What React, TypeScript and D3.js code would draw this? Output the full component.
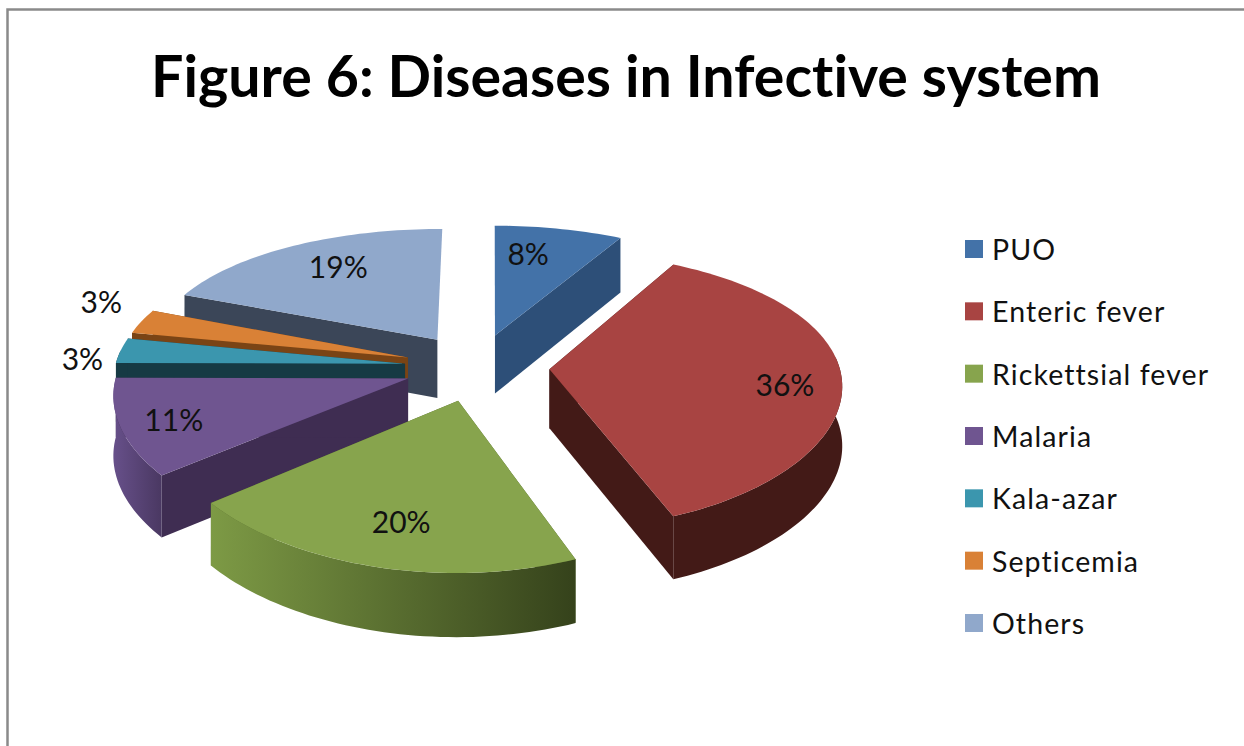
import React from "react";
import * as d3 from "d3";

const categories = ["PUO", "Enteric fever", "Rickettsial fever", "Malaria", "Kala-azar", "Septicemia", "Others"];
const shares = [8, 36, 20, 11, 3, 3, 19];
const topColors = ["#4372a8", "#a84442", "#87a44d", "#6f5590", "#3b96ae", "#d98136", "#90a8cb"];
const cutColors = ["#2d4f78", "#431a17", "#4f6329", "#3f2d52", "#163a44", "#7a4415", "#3b4658"];
const rimFrom = ["#2d4f78", "#431a17", "#7d9a45", "#67508a", "#163a44", "#7a4415", "#3b4658"];
const rimTo = ["#2d4f78", "#431a17", "#35421b", "#4a3862", "#163a44", "#7a4415", "#3b4658"];

// Far slices first, so nearer ones overlap them.
const paintOrder = [6, 0, 5, 4, 3, 1, 2];

// Label placement along each slice's bisector, with a small pixel nudge.
const labelReach = [0.8, 0.8, 0.72, 0.84, 1.14, 1.12, 0.76];
const labelNudge = [[-19, 5], [2, 7], [3, 7], [6, 0], [1, 9], [-9, -16], [12, 0]];

const WIDTH = 1244;
const HEIGHT = 746;
const CX = 477;
const CY = 367;
const RX = 290;
const RY = 135;
const PERSPECTIVE_X = 0.1;
const PERSPECTIVE_Y = 0.15;
const EXPLODE = 0.25;
const THICKNESS = 59;
const THICKNESS_FALLOFF = 0.07;
const ROTATION = (0.3 * Math.PI) / 180;
const EDGE_ON = 0.1;
const RIM_LIMIT = 0.1;
const FONT = "Lato, 'Open Sans', sans-serif";

type Pt = [number, number];

const project = (x: number, y: number, drop = 0): Pt => [
  CX + (RX * x) / (1 + PERSPECTIVE_X * y),
  CY - (RY * y) / (1 + PERSPECTIVE_Y * y) + drop * (1 - THICKNESS_FALLOFF * y),
];

const pie = d3
  .pie<number>()
  .sort(null)
  .startAngle(ROTATION)
  .endAngle(ROTATION + Math.PI * 2);

const arcs = pie(shares);
const outline = d3.line<Pt>();
const closed = (pts: Pt[]) => `${outline(pts)}Z`;

const legendY = d3.scaleLinear().domain([0, categories.length - 1]).range([249, 623]);

function sliceGeometry(i: number) {
  const { startAngle: a0, endAngle: a1 } = arcs[i];
  const mid = (a0 + a1) / 2;
  const ox = EXPLODE * Math.sin(mid);
  const oy = EXPLODE * Math.cos(mid);
  const steps = Math.max(6, Math.ceil((a1 - a0) * 40));
  const angles = d3.range(steps + 1).map((k) => a0 + ((a1 - a0) * k) / steps);
  const point = (a: number, drop: number): Pt => project(ox + Math.sin(a), oy + Math.cos(a), drop);
  const apex = (drop: number): Pt => project(ox, oy, drop);
  const top = angles.map((a) => point(a, 0));
  // Only the part of the outer wall that faces the viewer is drawn.
  const front = angles.filter((a) => Math.cos(a) < RIM_LIMIT);
  const rim =
    front.length > 1
      ? closed([...front.map((a) => point(a, 0)), ...front.slice().reverse().map((a) => point(a, THICKNESS))])
      : null;
  // A cut seen almost edge-on shows no wall.
  const cut = (a: number) =>
    Math.abs(Math.sin(a)) < EDGE_ON ? null : closed([apex(0), point(a, 0), point(a, THICKNESS), apex(THICKNESS)]);
  return {
    mid,
    ox,
    oy,
    topFace: closed([apex(0), ...top]),
    rim,
    cutStart: cut(a0),
    cutEnd: cut(a1),
  };
}

export default function App() {
  return (
    <svg
      width={WIDTH}
      height={HEIGHT}
      viewBox={`0 0 ${WIDTH} ${HEIGHT}`}
      style={{ position: "absolute", left: 0, top: 0, background: "#fff", display: "block" }}
    >
      <defs>
        {categories.map((_, i) => (
          <linearGradient key={i} id={`rim-${i}`} x1="0" x2="1" y1="0" y2="0">
            <stop offset="0" stopColor={rimFrom[i]} />
            <stop offset="1" stopColor={rimTo[i]} />
          </linearGradient>
        ))}
      </defs>

      <path d={`M7.5 ${HEIGHT}V9.5H${WIDTH}`} fill="none" stroke="#8a8a8a" strokeWidth={2.5} />

      <text
        x={626}
        y={97}
        textAnchor="middle"
        fontFamily={FONT}
        fontWeight={700}
        fontSize={57.3}
        style={{ fontVariantLigatures: "none" }}
        fill="#000"
      >
        Figure 6: Diseases in Infective system
      </text>

      {paintOrder.map((i) => {
        const g = sliceGeometry(i);
        return (
          <g key={categories[i]}>
            {g.cutStart && <path d={g.cutStart} fill={cutColors[i]} />}
            {g.cutEnd && <path d={g.cutEnd} fill={cutColors[i]} />}
            {g.rim && <path d={g.rim} fill={`url(#rim-${i})`} />}
            <path d={g.topFace} fill={topColors[i]} />
          </g>
        );
      })}

      {shares.map((v, i) => {
        const g = sliceGeometry(i);
        const [x, y] = project(
          g.ox + labelReach[i] * Math.sin(g.mid),
          g.oy + labelReach[i] * Math.cos(g.mid)
        );
        return (
          <text
            key={i}
            x={x + labelNudge[i][0]}
            y={y + labelNudge[i][1]}
            textAnchor="middle"
            dominantBaseline="central"
            fontFamily={FONT}
            fontSize={30}
            fill="#111"
          >
            {v}%
          </text>
        );
      })}

      {categories.map((c, i) => (
        <g key={c} transform={`translate(0,${legendY(i)})`}>
          <rect x={965} y={-9} width={18} height={18} fill={topColors[i]} />
          <text
            x={992}
            y={0}
            dominantBaseline="central"
            fontFamily={FONT}
            fontSize={28.5}
            letterSpacing={1.1}
            style={{ fontVariantLigatures: "none" }}
            fill="#111"
          >
            {c}
          </text>
        </g>
      ))}
    </svg>
  );
}
